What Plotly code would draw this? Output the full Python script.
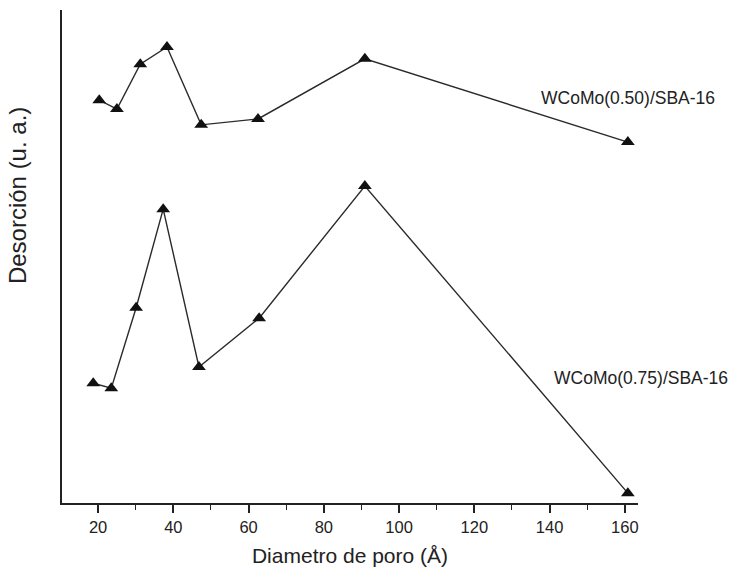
import plotly.graph_objects as go

# Pore diameter (Å) and desorption (arbitrary units) for each catalyst
diam_050 = [20.3, 25.0, 31.2, 38.3, 47.4, 62.5, 90.9, 160.8]
desorp_050 = [81.7, 79.9, 89.0, 92.5, 76.7, 77.9, 90.1, 73.2]

diam_075 = [18.7, 23.5, 30.1, 37.3, 46.8, 62.8, 90.9, 160.8]
desorp_075 = [24.3, 23.3, 39.6, 59.6, 27.6, 37.5, 64.3, 2.0]

series_names = ["WCoMo(0.50)/SBA-16", "WCoMo(0.75)/SBA-16"]
x_ticks = [20, 40, 60, 80, 100, 120, 140, 160]

FONT = "Liberation Sans, Arial, sans-serif"
INK = "#222222"

fig = go.Figure()
for xs, ys, name in [(diam_050, desorp_050, series_names[0]),
                     (diam_075, desorp_075, series_names[1])]:
    fig.add_trace(go.Scatter(
        x=xs, y=ys, mode="lines+markers", name=name,
        line=dict(color="#2a2a2a", width=1.4),
        marker=dict(symbol="triangle-up", size=12, color="#111111"),
        cliponaxis=False,
    ))

# Series labels placed beside each curve
fig.add_annotation(xref="paper", yref="paper", x=0.983, y=0.821,
                   text=series_names[0], showarrow=False,
                   xanchor="center", yanchor="middle",
                   font=dict(family=FONT, size=17.5, color=INK))
fig.add_annotation(xref="paper", yref="paper", x=1.005, y=0.254,
                   text=series_names[1], showarrow=False,
                   xanchor="center", yanchor="middle",
                   font=dict(family=FONT, size=17.5, color=INK))

# Y-axis title, set as a rotated annotation
fig.add_annotation(xref="paper", yref="paper", x=-0.076, y=0.623,
                   text="Desorción (u. a.)", textangle=-90, showarrow=False,
                   xanchor="center", yanchor="middle",
                   font=dict(family=FONT, size=24, color=INK))

fig.update_layout(
    width=736, height=576,
    margin=dict(l=62, r=98, t=10, b=73),
    paper_bgcolor="white", plot_bgcolor="white",
    showlegend=False,
    font=dict(family=FONT, size=16, color=INK),
    xaxis=dict(
        range=[10.4, 163.5], tickvals=x_ticks,
        ticks="outside", ticklen=8, tickwidth=1.5, tickcolor=INK,
        minor=dict(tickvals=[30, 50, 70, 90, 110, 130, 150], ticks="outside",
                   ticklen=5, tickwidth=1.2, tickcolor=INK),
        showline=True, linecolor=INK, linewidth=1.5,
        showgrid=False, zeroline=False,
        title=dict(text="Diametro de poro (Å)", standoff=14,
                   font=dict(family=FONT, size=21)),
        tickfont=dict(family=FONT, size=16.5),
    ),
    yaxis=dict(
        range=[0, 100], showticklabels=False, ticks="",
        showline=True, linecolor=INK, linewidth=1.5,
        showgrid=False, zeroline=False,
    ),
)

fig.write_html("out.html")
